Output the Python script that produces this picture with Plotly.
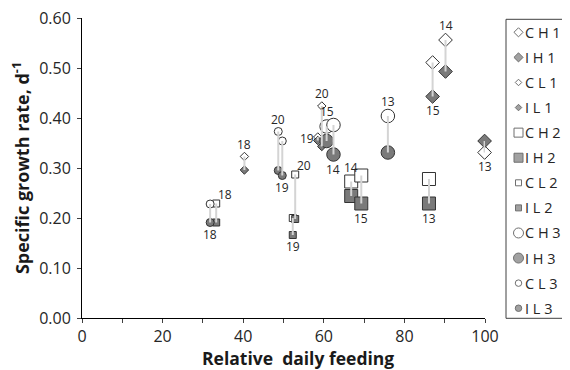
import plotly.graph_objects as go

# ---------------- data ----------------
series_names = ["1", "2", "3"]
symbols = {"1": "diamond", "2": "square", "3": "circle"}

# High feeding (H) pairs: x, control (C) value, infected (I) value, label
h1_x = [87.0, 90.2, 99.9]
h1_c = [0.511, 0.556, 0.331]
h1_i = [0.443, 0.493, 0.354]
h1_lab = ["15", "14", "13"]
h1_pos = ["below", "above", "below"]

l1_x = [40.3, 59.5, 58.5]
l1_c = [0.323, 0.424, 0.362]
l1_i = [0.296, 0.343, 0.355]
l1_lab = ["18", "20", "19"]
l1_pos = ["above", "above", "left"]

h2_x = [66.8, 69.3, 86.1]
h2_c = [0.273, 0.285, 0.278]
h2_i = [0.244, 0.229, 0.229]
h2_lab = ["14", "15", "13"]
h2_pos = ["above", "below", "below"]

l2_x = [33.3, 52.9, 52.3]
l2_c = [0.229, 0.287, 0.200]
l2_i = [0.191, 0.198, 0.166]
l2_lab = ["18", "20", "19"]
l2_pos = ["aboveright", "aboveright", "below"]

h3_x = [60.7, 62.4, 75.9]
h3_c = [0.383, 0.386, 0.404]
h3_i = [0.354, 0.327, 0.331]
h3_lab = ["15", "14", "13"]
h3_pos = ["above", "below", "above"]

l3_x = [31.8, 48.7, 49.7]
l3_c = [0.228, 0.373, 0.354]
l3_i = [0.191, 0.295, 0.285]
l3_lab = ["18", "20", "19"]
l3_pos = ["below", "above", "below"]

y_ticks = [0.0, 0.1, 0.2, 0.3, 0.4, 0.5, 0.6]
x_ticks = [0, 20, 40, 60, 80, 100]
legend_labels = ["C H 1", "I H 1", "C L 1", "I L 1",
                 "C H 2", "I H 2", "C L 2", "I L 2",
                 "C H 3", "I H 3", "C L 3", "I L 3"]
x_title = "Relative  daily feeding"
y_title = "Specific growth rate, d<sup>-1</sup>"

# ---------------- style ----------------
FONT = "Open Sans"
GRAY_FILL = "#7a7a7a"
EDGE = "#333333"
LINE = "#d4d4d4"
size_big = {"diamond": 10.5, "square": 13, "circle": 13.5}
size_small = {"diamond": 6.5, "square": 7, "circle": 8}
leg_big = {"diamond": 7, "square": 9, "circle": 10}
leg_small = {"diamond": 5, "square": 6, "circle": 6.5}

groups = {
    "1": [("H", h1_x, h1_c, h1_i, h1_lab, h1_pos), ("L", l1_x, l1_c, l1_i, l1_lab, l1_pos)],
    "2": [("H", h2_x, h2_c, h2_i, h2_lab, h2_pos), ("L", l2_x, l2_c, l2_i, l2_lab, l2_pos)],
    "3": [("H", h3_x, h3_c, h3_i, h3_lab, h3_pos), ("L", l3_x, l3_c, l3_i, l3_lab, l3_pos)],
}

fig = go.Figure()
annotations = []
line_x, line_y = [], []

for s in series_names:
    sym = symbols[s]
    for feed, xs, cs, is_, labs, poss in groups[s]:
        sz = size_big[sym] if feed == "H" else size_small[sym]
        # control (open)
        fig.add_trace(go.Scatter(x=xs, y=cs, mode="markers", showlegend=False, cliponaxis=False,
                                 marker=dict(symbol=sym, size=sz, color="white",
                                             line=dict(color=EDGE, width=1))))
        # infected (filled)
        fig.add_trace(go.Scatter(x=xs, y=is_, mode="markers", showlegend=False, cliponaxis=False,
                                 marker=dict(symbol=sym, size=sz, color=GRAY_FILL,
                                             line=dict(color=EDGE, width=1))))
        for x, c, i, lab, pos in zip(xs, cs, is_, labs, poss):
            line_x += [x, x, None]
            line_y += [c, i, None]
            hi, lo = max(c, i), min(c, i)
            off = sz / 2 + (8 if sym != "diamond" else 9)
            if pos == "above":
                annotations.append(dict(x=x, y=hi, text=lab, showarrow=False,
                                        yshift=off, xref="x", yref="y"))
            elif pos == "aboveright":
                annotations.append(dict(x=x, y=hi, text=lab, showarrow=False,
                                        yshift=off - 2, xshift=9, xref="x", yref="y"))
            elif pos == "below":
                annotations.append(dict(x=x, y=lo, text=lab, showarrow=False,
                                        yshift=-off, xref="x", yref="y"))
            else:
                annotations.append(dict(x=x, y=(c + i) / 2, text=lab, showarrow=False,
                                        xshift=-sz - 4, xref="x", yref="y"))

# connecting lines drawn over the markers
fig.add_trace(go.Scatter(x=line_x, y=line_y, mode="lines", showlegend=False, cliponaxis=False,
                         line=dict(color=LINE, width=2)))

for a in annotations:
    a["font"] = dict(family=FONT, size=12, color="#262626")

# ---------------- manual legend ----------------
leg_idx = list(range(len(legend_labels)))
leg_sym, leg_fill, leg_size = [], [], []
for s in series_names:
    sym = symbols[s]
    for feed in ["H", "L"]:
        for cond in ["C", "I"]:
            leg_sym.append(sym)
            leg_fill.append("white" if cond == "C" else GRAY_FILL)
            leg_size.append(leg_big[sym] if feed == "H" else leg_small[sym])

fig.add_trace(go.Scatter(x=[12.5] * len(leg_idx), y=leg_idx, mode="markers",
                         xaxis="x2", yaxis="y2", showlegend=False, cliponaxis=False,
                         marker=dict(symbol=leg_sym, size=leg_size, color=leg_fill,
                                     line=dict(color=EDGE, width=1))))
for i, t in zip(leg_idx, legend_labels):
    annotations.append(dict(x=17, y=i, xref="x2", yref="y2", text=t, showarrow=False,
                            xanchor="left", font=dict(family=FONT, size=14.5, color="#262626")))

# page body has an 8px default margin -> work in shifted coordinates
OFF = 8
W, H = 570 - OFF, 370 - OFF
PL, PR, PT, PB = 82 - OFF, 485 - OFF, 18 - OFF, 318 - OFF
LEG_L = 506 - OFF
plot_w = W - PL
x_dom_end = (PR - PL) / plot_w
x2_dom_start = (LEG_L - PL) / plot_w
ph = PB - PT

# x-axis title (centred slightly right of the plot centre, as in the original)
annotations.append(dict(text="<b>" + x_title + "</b>", xref="paper", yref="paper",
                        x=(297.5 - OFF - PL) / plot_w, y=-(358 - OFF - PB) / ph,
                        xanchor="center", yanchor="middle", showarrow=False,
                        font=dict(family=FONT, size=17.5, color="#1a1a1a")))

fig.update_layout(
    width=W, height=H,
    margin=dict(l=PL, r=0, t=PT, b=H - PB),
    paper_bgcolor="white", plot_bgcolor="white",
    font=dict(family=FONT, color="#262626"),
    showlegend=False,
    annotations=annotations,
    shapes=[dict(type="rect", xref="paper", yref="paper",
                 x0=x2_dom_start, x1=1.05, y0=-0.001, y1=(PB - (19.3 - OFF)) / ph,
                 line=dict(color="#404040", width=1), fillcolor="rgba(0,0,0,0)")],
    xaxis=dict(domain=[0, x_dom_end], range=[0, 100], tickvals=x_ticks,
               automargin=False, ticklabeloverflow="allow",
               ticks="outside", ticklen=4, tickcolor="#404040",
               minor=dict(dtick=10, ticks="outside", ticklen=4, tickcolor="#404040"),
               showline=True, linecolor="#000000", linewidth=1,
               showgrid=False, zeroline=False,
               tickfont=dict(family=FONT, size=16, color="#262626")),
    yaxis=dict(range=[0, 0.6], tickvals=y_ticks, tickformat=".2f",
               automargin=False, ticklabeloverflow="allow",
               ticks="outside", ticklen=4, tickcolor="#404040",
               ticklabelstandoff=3,
               showline=True, linecolor="#000000", linewidth=1,
               showgrid=False, zeroline=False,
               tickfont=dict(family=FONT, size=16, color="#262626"),
               title=dict(text=y_title, standoff=10,
                          font=dict(family=FONT, size=18, color="#1a1a1a", weight="bold"))),
    xaxis2=dict(domain=[x2_dom_start, 1], range=[0, W - LEG_L], visible=False,
                anchor="y2", fixedrange=True),
    yaxis2=dict(domain=[0, 1], range=[11.39, -0.57], visible=False,
                anchor="x2", fixedrange=True),
)

fig.write_html("out.html")
